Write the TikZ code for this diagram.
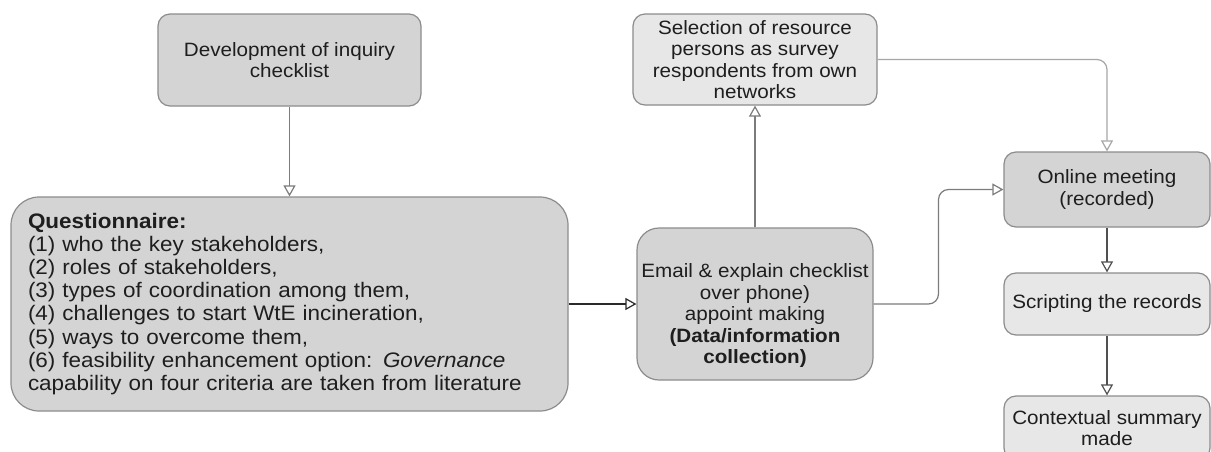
\documentclass[tikz,border=0pt]{standalone}
\usepackage{fontspec}
\setmainfont{Liberation Sans}[FakeStretch=1.07]
\usetikzlibrary{arrows.meta,calc}
\definecolor{boxmid}{HTML}{D4D4D4}
\definecolor{boxlight}{HTML}{E7E7E7}
\definecolor{edgegray}{HTML}{8C8C8C}
\definecolor{inkgray}{HTML}{1E1E1E}
\definecolor{linemid}{HTML}{7C7C7C}
\definecolor{linelight}{HTML}{A6A6A6}
\definecolor{linedark}{HTML}{505050}
\definecolor{lineblack}{HTML}{2A2A2A}

\begin{document}
\begin{tikzpicture}[x=1pt,y=-1pt,
  box/.style={draw=edgegray, line width=1.2pt, rounded corners=#1, inner sep=0pt,
              text=inkgray, align=center, font=\fontsize{19.3}{21.5}\selectfont},
  box/.default=12pt,
  midbox/.style={box=#1, fill=boxmid},
  midbox/.default=12pt,
  lightbox/.style={box=#1, fill=boxlight},
  lightbox/.default=12pt,
  plain/.style={inner sep=0pt, text=inkgray, align=center, font=\fontsize{19.3}{21.5}\selectfont},
  flow/.style={line width=1.2pt, -{Triangle[open, length=11pt, width=12pt]}},
]
\useasboundingbox[fill=white] (0,0) rectangle (1211,451);

% left column
\node[midbox, minimum width=263pt, minimum height=92pt] (dev) at (289.5,60)
  {Development of inquiry\\checklist};

\node[midbox=28pt, minimum width=557pt, minimum height=214pt, text width=523pt,
      inner xsep=17pt, align=left, font=\fontsize{21}{23.1}\selectfont] (quest) at (289.5,304)
  {\textbf{Questionnaire:}\\
   (1) who the key stakeholders,\\
   (2) roles of stakeholders,\\
   (3) types of coordination among them,\\
   (4) challenges to start WtE incineration,\\
   (5) ways to overcome them,\\
   (6) feasibility enhancement option: \textit{Governance}\\
   capability on four criteria are taken from literature};

% middle column
\node[lightbox, minimum width=244pt, minimum height=91pt] (sel) at (755,59.5)
  {Selection of resource\\persons as survey\\respondents from own\\networks};

\node[midbox=22pt, minimum width=236pt, minimum height=152pt] (email) at (755,304) {};
\node[plain] (emailtxt) at (755,316)
  {Email \& explain checklist\\over phone)\\appoint making\\\textbf{(Data/information}\\\textbf{collection)}};

% right column
\node[midbox, minimum width=206pt, minimum height=75pt] (online) at (1107,189.5)
  {Online meeting\\(recorded)};
\node[lightbox, minimum width=206pt, minimum height=62pt] (script) at (1107,304)
  {Scripting the records};
\node[lightbox, minimum width=206pt, minimum height=64pt] (summary) at (1107,428)
  {Contextual summary\\made};

% connectors
\draw[flow, draw=linemid] (dev.south) -- (quest.north);
\draw[flow, draw=lineblack] (quest.east) -- (email.west);
\draw[flow, draw=linemid] (email.north) -- (sel.south);
\draw[flow, draw=linelight, rounded corners=10pt] (sel.east) -| (online.north);
\draw[flow, draw=linemid, rounded corners=10pt]
  (email.east) -- ($(email.east)!.5!(email.east -| online.west)$) |- (online.west);
\draw[flow, draw=linedark] (online.south) -- (script.north);
\draw[flow, draw=linedark] (script.south) -- (summary.north);
\end{tikzpicture}
\end{document}
